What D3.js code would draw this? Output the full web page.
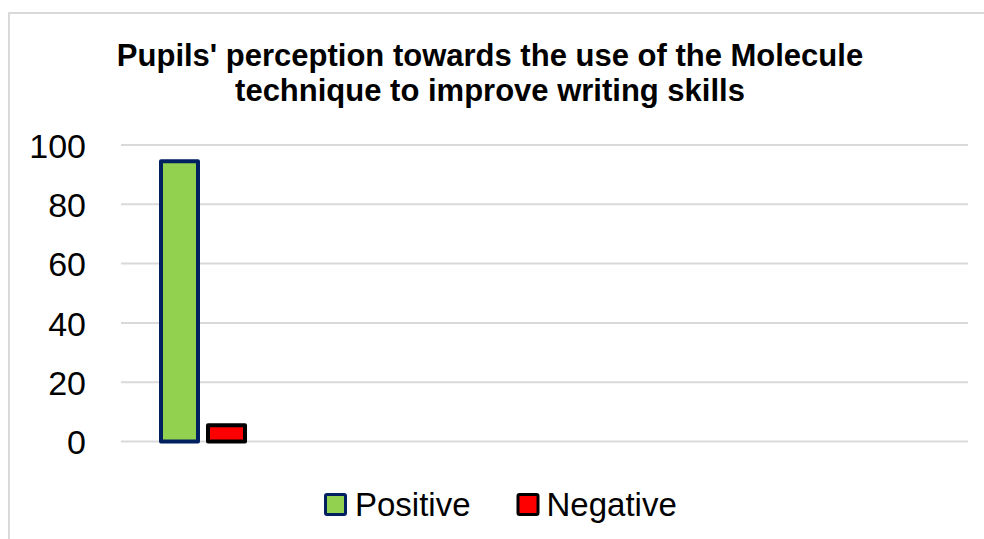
<!DOCTYPE html>
<html>
<head>
<meta charset="utf-8">
<script src="https://cdn.jsdelivr.net/npm/d3@7"></script>
<style>
  html, body { margin: 0; padding: 0; background: #fff; }
  svg { display: block; }
  text { font-family: Arial, "Liberation Sans", sans-serif; }
</style>
</head>
<body>
<svg id="chart" width="984" height="539"></svg>
<script>
// ---- data ----
const titleLines = ["Pupils' perception towards the use of the Molecule", "technique to improve writing skills"];
const categories = ["Perception", "slot2", "slot3", "slot4", "slot5"]; // only first holds data
const seriesNames = ["Positive", "Negative"];
const positiveValues = [94.5];
const negativeValues = [5.5];
const yTicks = [0, 20, 40, 60, 80, 100];
const seriesFill = ["#92D050", "#FF0000"];
const seriesStroke = ["#002060", "#000000"];

const W = 984, H = 539;
const svg = d3.select("#chart");

// outer chart border (extends beyond window on right/bottom)
svg.append("rect").attr("x", 9).attr("y", 13).attr("width", 1000).attr("height", 560)
  .attr("fill", "#fff").attr("stroke", "#d9d9d9").attr("stroke-width", 2);

const plot = { left: 121, right: 968, top: 145, bottom: 441.5 };

const x = d3.scaleBand().domain(categories).range([plot.left, plot.right]).paddingInner(0).paddingOuter(0);
const y = d3.scaleLinear().domain([0, 100]).range([plot.bottom, plot.top]);

// gridlines
svg.append("g").selectAll("line").data(yTicks).join("line")
  .attr("x1", plot.left).attr("x2", plot.right)
  .attr("y1", d => y(d)).attr("y2", d => y(d))
  .attr("stroke", "#d9d9d9").attr("stroke-width", 2);

// y axis labels
const yAxis = d3.axisLeft(y).tickValues(yTicks).tickSize(0).tickPadding(0);
const gy = svg.append("g").attr("transform", `translate(86,0)`).call(yAxis);
gy.select(".domain").remove();
gy.selectAll("text").attr("font-size", 34).attr("fill", "#000").attr("dy", "0.36em")
  .style("font-family", "Arial, 'Liberation Sans', sans-serif");

// bars
const groupHalf = 42;
const rows = categories.slice(0, positiveValues.length).map((c, i) => ({
  cat: c, vals: [positiveValues[i], negativeValues[i]]
}));
const sub = d3.scaleBand().domain(seriesNames).range([0, groupHalf * 2]).paddingInner(0.213);

rows.forEach(r => {
  const cx = x(r.cat) + x.bandwidth() / 2 - 2.7;
  const g = svg.append("g").attr("transform", `translate(${cx - groupHalf},0)`);
  g.selectAll("rect").data(r.vals).join("rect")
    .attr("x", (d, i) => sub(seriesNames[i]))
    .attr("width", sub.bandwidth())
    .attr("y", d => y(d))
    .attr("height", d => y(0) - y(d))
    .attr("fill", (d, i) => seriesFill[i])
    .attr("stroke", (d, i) => seriesStroke[i])
    .attr("stroke-width", 4)
    .attr("stroke-linejoin", "round");
});

// title
const title = svg.append("text").attr("text-anchor", "middle").attr("font-weight", "bold")
  .attr("font-size", 31).attr("fill", "#000");
titleLines.forEach((t, i) => {
  title.append("tspan").attr("x", 490).attr("y", 66 + i * 35).text(t);
});

// legend
const legendItems = [
  { name: seriesNames[0], sx: 325.5, tx: 355 },
  { name: seriesNames[1], sx: 518, tx: 546.5 }
];
const lg = svg.append("g");
legendItems.forEach((it, i) => {
  lg.append("rect").attr("x", it.sx).attr("y", 494.5).attr("width", 20).attr("height", 20)
    .attr("fill", seriesFill[i]).attr("stroke", seriesStroke[i]).attr("stroke-width", 3)
    .attr("rx", 1.5);
  lg.append("text").attr("x", it.tx).attr("y", 515.5).attr("font-size", 33).attr("fill", "#000").text(it.name);
});
</script>
</body>
</html>
